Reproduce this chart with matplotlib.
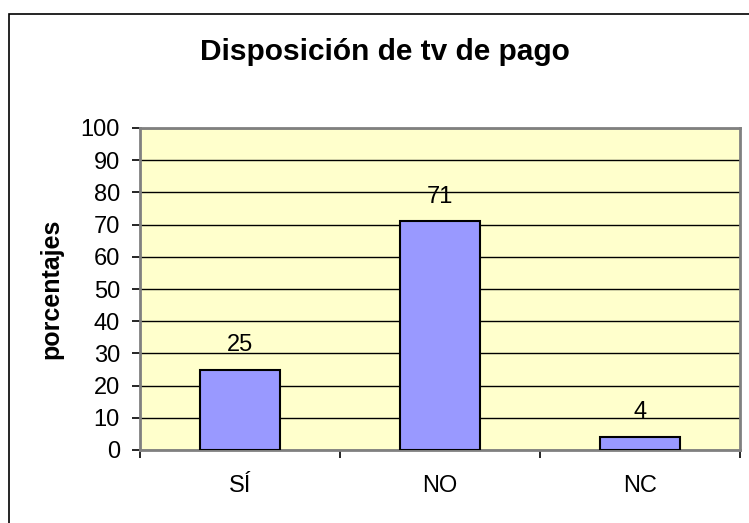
import matplotlib
matplotlib.use('Agg')
import matplotlib.pyplot as plt
from matplotlib.patches import Rectangle

categories = ['SÍ', 'NO', 'NC']
values = [25, 71, 4]
y_ticks = [0, 10, 20, 30, 40, 50, 60, 70, 80, 90, 100]

plt.rcParams['font.family'] = ['Liberation Sans', 'DejaVu Sans']

W, H = 749, 523
fig = plt.figure(figsize=(W / 100, H / 100), dpi=100)

# outer chart frame (only left and top edges visible)
fig.add_artist(Rectangle((9 / W, -0.1), 1.2, (H - 14) / H + 0.1, transform=fig.transFigure,
                         fill=False, edgecolor='black', linewidth=1.2))

ax = fig.add_axes([140 / W, 1 - 450 / H, 600 / W, 322 / H])
ax.set_facecolor('#FFFFCC')

x = range(len(categories))
ax.bar(x, values, width=0.4, color='#9999FF', edgecolor='black', linewidth=1.5, zorder=3)
for xi, v in zip(x, values):
    ax.annotate(str(v), (xi, v), xytext=(0, 13.5), textcoords='offset points',
                ha='center', va='baseline', fontsize=17)

ax.set_xlim(-0.5, 2.5)
ax.set_ylim(0, 100)
ax.set_yticks(y_ticks)
ax.tick_params(axis='y', labelsize=17, length=6, width=1.2, direction='out', pad=8.5)
ax.yaxis.grid(True, color='black', linewidth=1)
ax.set_axisbelow(True)

ax.set_xticks([-0.5, 0.5, 1.5, 2.5])
ax.set_xticklabels([])
ax.set_xticks(list(x), minor=True)
ax.set_xticklabels(categories, minor=True, fontsize=17)
ax.tick_params(axis='x', which='major', length=6, width=1.2, direction='out')
ax.tick_params(axis='x', which='minor', length=0, pad=18)

for s in ['top', 'right', 'left', 'bottom']:
    ax.spines[s].set_color('#808080')
    ax.spines[s].set_linewidth(2)

ax.set_ylabel('porcentajes', fontsize=18, fontweight='bold', labelpad=12)
fig.text(385 / W, 1 - 52 / H, 'Disposición de tv de pago', ha='center', va='center',
         fontsize=21.5, fontweight='bold')

fig.savefig('out.png', dpi=100)
